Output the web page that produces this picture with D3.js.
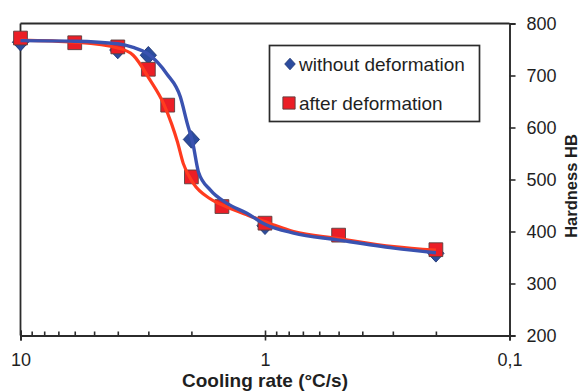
<!DOCTYPE html>
<html>
<head>
<meta charset="utf-8">
<script src="https://cdn.jsdelivr.net/npm/d3@7"></script>
<style>
  html, body { margin: 0; padding: 0; background: #fff; }
  svg { display: block; font-family: "Liberation Sans", Arial, sans-serif; }
</style>
</head>
<body>
<svg id="chart" width="580" height="392"></svg>
<script>
// Measured hardness (HB) against cooling rate (°C/s)
const ratesWithout = [10, 4, 3, 2, 1, 0.2];
const hbWithout    = [764, 749, 739, 577, 411, 358];

const ratesAfter = [10, 6, 4, 3, 2.5, 2, 1.5, 1, 0.5, 0.2];
const hbAfter    = [772, 763, 755, 712, 643, 505, 448, 416, 393, 365];

// Fitted trend curves (rate, HB)
const fitRatesWithout = [10, 6, 4, 3.46, 3, 2.52, 2.22, 2.08, 1.97, 1.87, 1.675, 1.43, 1.186, 1, 0.764, 0.507, 0.297, 0.2];
const fitHbWithout    = [767, 766, 761, 754, 741, 703, 659, 608, 568, 514, 480, 454, 435, 414, 397, 384, 368, 359];

const fitRatesAfter = [10, 6, 4, 3.46, 2.95, 2.6, 2.41, 2.28, 2.16, 1.96, 1.676, 1.43, 1.186, 0.95, 0.764, 0.507, 0.297, 0.2];
const fitHbAfter    = [768, 764, 753, 739, 691, 646, 607, 572, 531, 492, 463, 447, 432, 415, 400, 387, 371, 364];

const xMajorTicks = [10, 1, 0.1];
const xMajorLabels = ["10", "1", "0,1"];
const xMinorTicks = [9, 8, 7, 6, 5, 4, 3, 2, 0.9, 0.8, 0.7, 0.6, 0.5, 0.4, 0.3, 0.2];
const yTicks = [200, 300, 400, 500, 600, 700, 800];

const seriesNames = ["without deformation", "after deformation"];
const xTitle = "Cooling rate (°C/s)";
const yTitle = "Hardness HB";

const svg = d3.select("#chart");
const plotLeft = 20.5, plotRight = 509.5, plotTop = 23.5, plotBottom = 335.5;
const axisColor = "#2b2b2b";
const textColor = "#1f1f1f";

const x = d3.scaleLog().domain([10, 0.1]).range([plotLeft, plotRight]);
const y = d3.scaleLinear().domain([200, 800]).range([plotBottom, plotTop]);

// Frame: top and left edges
svg.append("line").attr("x1", plotLeft).attr("x2", plotRight).attr("y1", plotTop).attr("y2", plotTop)
  .attr("stroke", axisColor).attr("stroke-width", 1.8);
svg.append("line").attr("x1", plotLeft).attr("x2", plotLeft).attr("y1", plotTop).attr("y2", plotBottom)
  .attr("stroke", axisColor).attr("stroke-width", 1.8);

// Bottom axis: minor ticks pointing inward
const gMinor = svg.append("g").attr("transform", `translate(0,${plotBottom})`)
  .call(d3.axisTop(x).tickValues(xMinorTicks).tickSize(4).tickFormat(""));
// Major ticks crossing the axis
const gMajorUp = svg.append("g").attr("transform", `translate(0,${plotBottom})`)
  .call(d3.axisTop(x).tickValues(xMajorTicks).tickSize(5).tickFormat(""));
const gX = svg.append("g").attr("transform", `translate(0,${plotBottom})`)
  .call(d3.axisBottom(x).tickValues(xMajorTicks).tickSize(5).tickPadding(13)
    .tickFormat((d, i) => xMajorLabels[i]));
[gMinor, gMajorUp, gX].forEach(g => {
  g.selectAll("line").attr("stroke", axisColor).attr("stroke-width", 1.6);
  g.select(".domain").attr("stroke", axisColor).attr("stroke-width", 1.9);
});
gX.selectAll("text").attr("font-size", 18).attr("fill", textColor)
  .attr("font-family", "Liberation Sans, Arial, sans-serif");

// Right axis
const gY = svg.append("g").attr("transform", `translate(${plotRight},0)`)
  .call(d3.axisRight(y).tickValues(yTicks).tickSize(6).tickPadding(11));
gY.selectAll("line").attr("stroke", axisColor).attr("stroke-width", 1.6);
gY.select(".domain").attr("stroke", axisColor).attr("stroke-width", 1.9);
gY.selectAll("text").attr("font-size", 18).attr("fill", textColor)
  .attr("font-family", "Liberation Sans, Arial, sans-serif");

// Axis titles
svg.append("text").attr("x", x(1)).attr("y", 387).attr("text-anchor", "middle")
  .attr("font-size", 19).attr("font-weight", "bold").attr("fill", textColor)
  .text(xTitle);
svg.append("text").attr("transform", "translate(577,186) rotate(-90)")
  .attr("text-anchor", "middle").attr("font-size", 16.5).attr("font-weight", "bold")
  .attr("fill", textColor).text(yTitle);

// Markers
const blueFill = "#2c4c9e", blueStroke = "#1b3270";
const redFill = "#ec1e26", redStroke = "#5a4040";
// diamond = square turned by 45°, slightly taller than wide
const rhombus = d3.symbol().type(d3.symbolSquare).size(132);
const square = d3.symbol().type(d3.symbolSquare).size(190);

svg.append("g").selectAll("path").data(ratesWithout).join("path")
  .attr("d", rhombus)
  .attr("transform", (d, i) => `translate(${x(d)},${y(hbWithout[i])}) scale(1,1.08) rotate(45)`)
  .attr("fill", blueFill).attr("stroke", blueStroke).attr("stroke-width", 0.8);

svg.append("g").selectAll("path").data(ratesAfter).join("path")
  .attr("d", square)
  .attr("transform", (d, i) => `translate(${x(d)},${y(hbAfter[i])})`)
  .attr("fill", redFill).attr("stroke", redStroke).attr("stroke-width", 0.9);

// Trend curves
const line = d3.line().x(d => x(d[0])).y(d => y(d[1])).curve(d3.curveMonotoneX);
svg.append("path")
  .datum(fitRatesAfter.map((r, i) => [r, fitHbAfter[i]]))
  .attr("d", line).attr("fill", "none").attr("stroke", "#ff3b1f").attr("stroke-width", 3.2);
svg.append("path")
  .datum(fitRatesWithout.map((r, i) => [r, fitHbWithout[i]]))
  .attr("d", line).attr("fill", "none").attr("stroke", "#3a52b0").attr("stroke-width", 3.4);

// Legend
const lg = svg.append("g");
lg.append("rect").attr("x", 269.5).attr("y", 45.5).attr("width", 210).attr("height", 76)
  .attr("fill", "#fff").attr("stroke", axisColor).attr("stroke-width", 1.7);
lg.append("path").attr("d", d3.symbol().type(d3.symbolSquare).size(56))
  .attr("transform", "translate(290,64) scale(1,1.1) rotate(45)")
  .attr("fill", blueFill).attr("stroke", blueStroke).attr("stroke-width", 0.7);
lg.append("path").attr("d", d3.symbol().type(d3.symbolSquare).size(150))
  .attr("transform", "translate(289,103)")
  .attr("fill", redFill).attr("stroke", redStroke).attr("stroke-width", 0.9);
lg.selectAll("text").data(seriesNames).join("text")
  .attr("x", 299).attr("y", (d, i) => i === 0 ? 71 : 110)
  .attr("font-size", 19).attr("fill", textColor).text(d => d);
</script>
</body>
</html>
